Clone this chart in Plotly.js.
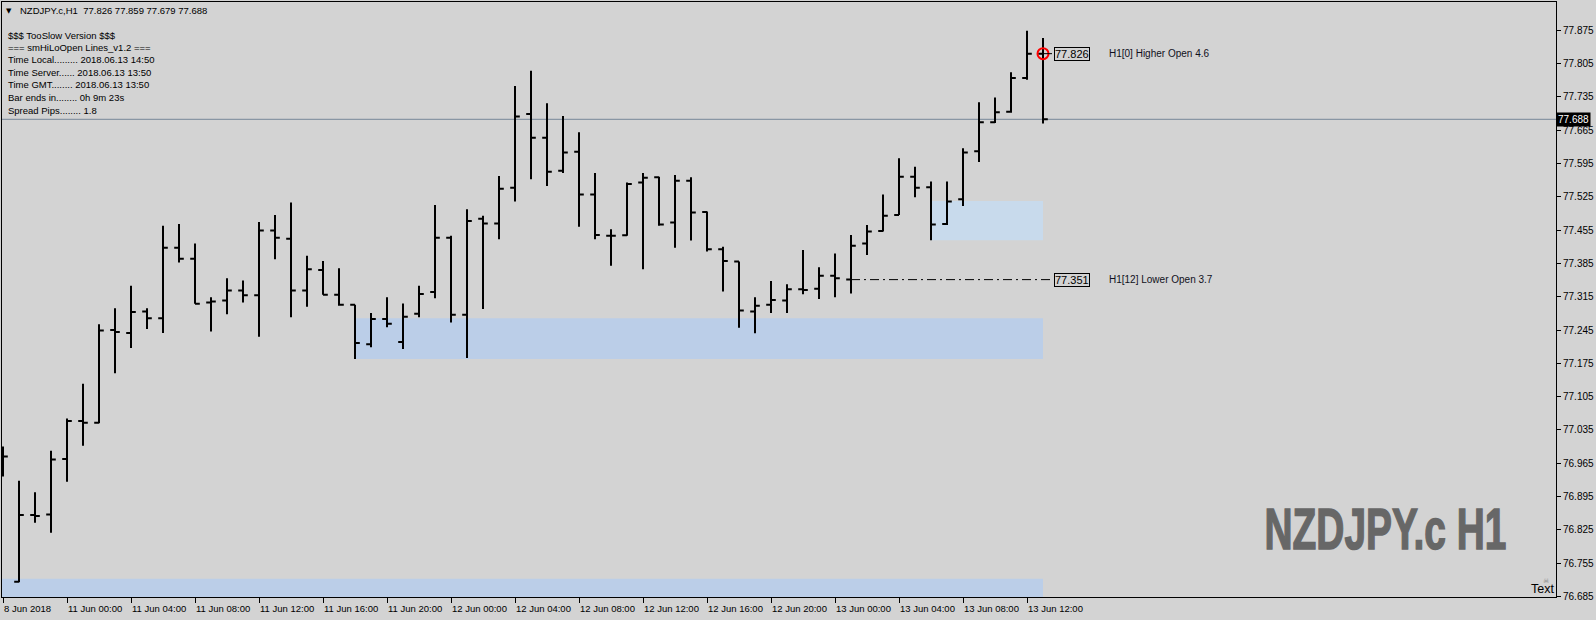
<!DOCTYPE html>
<html>
<head>
<meta charset="utf-8">
<script src="https://cdn.plot.ly/plotly-3.0.1.min.js"></script>
<style>
html,body{margin:0;padding:0;background:#D3D3D3;}
#chart{width:1596px;height:620px;}
</style>
</head>
<body>
<div id="chart"></div>
<script>
// ---------- DATA ----------
const symbol = "NZDJPY.c";
const timeframe = "H1";

const open = [76.985,76.716,76.856,76.857,76.974,77.054,77.050,77.245,77.239,77.284,
  77.270,77.418,77.395,77.303,77.307,77.328,77.318,77.454,77.437,77.328,
  77.371,77.319,77.298,77.215,77.268,77.220,77.279,77.325,77.439,77.277,
  77.479,77.469,77.544,77.699,77.649,77.580,77.620,77.530,77.443,77.444,
  77.555,77.566,77.471,77.559,77.493,77.415,77.389,77.284,77.298,77.307,
  77.331,77.332,77.359,77.351,77.427,77.453,77.487,77.567,77.545,77.468,
  77.520,77.621,77.682,77.704,77.775,77.826];
const high = [77.000,76.928,76.904,76.991,77.059,77.132,77.257,77.291,77.338,77.291,
  77.464,77.468,77.427,77.314,77.354,77.349,77.472,77.487,77.513,77.401,
  77.390,77.375,77.298,77.281,77.314,77.301,77.338,77.508,77.443,77.499,
  77.485,77.569,77.758,77.790,77.722,77.695,77.661,77.575,77.457,77.555,
  77.575,77.567,77.571,77.566,77.494,77.420,77.389,77.314,77.348,77.341,
  77.413,77.377,77.406,77.445,77.466,77.530,77.606,77.588,77.557,77.557,
  77.627,77.724,77.734,77.787,77.874,77.859];
const low = [76.937,76.715,76.840,76.819,76.926,77.002,77.049,77.154,77.207,77.247,
  77.239,77.387,77.300,77.242,77.278,77.303,77.231,77.394,77.272,77.294,
  77.319,77.296,77.184,77.209,77.251,77.205,77.272,77.312,77.261,77.186,
  77.289,77.436,77.515,77.562,77.548,77.575,77.462,77.436,77.380,77.443,
  77.373,77.464,77.418,77.433,77.410,77.326,77.250,77.238,77.281,77.281,
  77.320,77.310,77.314,77.322,77.403,77.452,77.487,77.524,77.434,77.466,
  77.506,77.598,77.680,77.702,77.771,77.679];
const close = [76.979,76.856,76.854,76.973,77.054,77.050,77.244,77.241,77.283,77.270,
  77.418,77.395,77.300,77.305,77.328,77.318,77.454,77.439,77.328,77.373,
  77.319,77.298,77.218,77.268,77.258,77.273,77.321,77.439,77.277,77.474,
  77.469,77.542,77.694,77.649,77.578,77.618,77.530,77.445,77.443,77.552,
  77.565,77.467,77.559,77.492,77.415,77.390,77.286,77.296,77.308,77.331,
  77.329,77.359,77.354,77.422,77.452,77.485,77.567,77.544,77.467,77.515,
  77.618,77.682,77.703,77.775,77.826,77.688];

// time-axis tick labels (bar index -> label)
const tickBars = [0,4,8,12,16,20,24,28,32,36,40,44,48,52,56,60,64];
const tickLabels = ["8 Jun 2018","11 Jun 00:00","11 Jun 04:00","11 Jun 08:00","11 Jun 12:00",
  "11 Jun 16:00","11 Jun 20:00","12 Jun 00:00","12 Jun 04:00","12 Jun 08:00","12 Jun 12:00",
  "12 Jun 16:00","12 Jun 20:00","13 Jun 00:00","13 Jun 04:00","13 Jun 08:00","13 Jun 12:00"];

// price-axis ticks
const priceTicks = [76.685,76.755,76.825,76.895,76.965,77.035,77.105,77.175,77.245,
  77.315,77.385,77.455,77.525,77.595,77.665,77.735,77.805,77.875];

// support / resistance zones
const zoneFromBar = [-1, 22, 58];
const zoneTop = [76.722, 77.270, 77.516];
const zoneBottom = [76.600, 77.184, 77.434];

// HiLo open levels
const levelBarsAgo = [0, 12];
const levelValue = [77.826, 77.351];
const levelText = ["H1[0] Higher Open 4.6", "H1[12] Lower Open 3.7"];

// info panel
const infoLines = ["$$$ TooSlow Version $$$",
  "=== smHiLoOpen Lines_v1.2 ===",
  "Time Local......... 2018.06.13 14:50",
  "Time Server...... 2018.06.13 13:50",
  "Time GMT........ 2018.06.13 13:50",
  "Bar ends in........ 0h 9m 23s",
  "Spread Pips........ 1.8"];

// ---------- LAYOUT / STYLE ----------
const W = 1596, H = 620;
const M = {l:2, r:40, t:2, b:23};
const plotW = W - M.l - M.r, plotH = H - M.t - M.b;
const pxPerBar = 16;
const pxPerPrice = 475.7;
const firstBarPx = 3;
const yMin = 76.6838;
const yMax = yMin + plotH / pxPerPrice;
const xMin = (M.l - firstBarPx) / pxPerBar;
const xMax = xMin + plotW / pxPerBar;
const px2x = px => (px - M.l) / plotW;
const py2y = py => (H - M.b - py) / plotH;

const uiFont = "Liberation Sans, Arial, sans-serif";
const last = open.length - 1;
const barIndex = open.map((_, i) => i);
const watermarkText = symbol + ' ' + timeframe;

const traces = [{
  type: 'ohlc',
  x: barIndex, open: open, high: high, low: low, close: close,
  increasing: {line: {color: '#000000', width: 2}},
  decreasing: {line: {color: '#000000', width: 2}},
  tickwidth: 0.3,
  hoverinfo: 'skip'
}, {
  type: 'scatter', mode: 'markers',
  x: [last - levelBarsAgo[0]], y: [levelValue[0]],
  marker: {symbol: 'circle-open', size: 11, color: '#FF0000', line: {width: 2, color: '#FF0000'}},
  hoverinfo: 'skip'
}];

const zoneColors = ['#BBCEE8', '#BBCEE8', '#C8DAEC'];
const shapes = [];
zoneFromBar.forEach((b, k) => {
  shapes.push({type: 'rect', xref: 'x', yref: 'y', layer: 'below',
    x0: b, x1: last, y0: zoneBottom[k], y1: zoneTop[k],
    fillcolor: zoneColors[k], line: {width: 0}});
});
// current price line
shapes.push({type: 'line', xref: 'paper', yref: 'y', x0: 0, x1: 1,
  y0: close[last], y1: close[last], line: {color: '#778899', width: 1}, layer: 'below'});

const boxOffset = 0.69, textOffset = 4.0;
levelValue.forEach((v, k) => {
  shapes.push({type: 'line', xref: 'x', yref: 'y', x0: last - levelBarsAgo[k], x1: last + boxOffset,
    y0: v, y1: v, line: {color: '#000000', width: 1, dash: '9px,4px,2px,4px'}});
});

const annotations = [];
levelValue.forEach((v, k) => {
  annotations.push({xref: 'x', yref: 'y', x: last + boxOffset, y: v, xanchor: 'left', yanchor: 'middle',
    text: v.toFixed(3), showarrow: false, bordercolor: '#000000', borderwidth: 1, borderpad: 0,
    font: {family: uiFont, size: 11, color: '#000000'}});
  annotations.push({xref: 'x', yref: 'y', x: last + textOffset, y: v, xanchor: 'left', yanchor: 'middle',
    text: levelText[k], showarrow: false,
    font: {family: uiFont, size: 10, color: '#101020'}});
});
// current price label on the axis
annotations.push({xref: 'paper', yref: 'y', x: 1, y: close[last], xanchor: 'left', yanchor: 'middle',
  text: close[last].toFixed(3), showarrow: false, bgcolor: '#000000', borderpad: 1,
  font: {family: uiFont, size: 10, color: '#FFFFFF'}});
// header line
annotations.push({xref: 'paper', yref: 'paper', x: px2x(4), y: py2y(11), xanchor: 'left', yanchor: 'middle',
  text: '\u25BC', showarrow: false, font: {family: 'DejaVu Sans', size: 7, color: '#000000'}});
annotations.push({xref: 'paper', yref: 'paper', x: px2x(18), y: py2y(11), xanchor: 'left', yanchor: 'middle',
  text: symbol + ',' + timeframe + '\u00A0 ' + [open[last], high[last], low[last], close[last]].map(v => v.toFixed(3)).join(' '),
  showarrow: false, font: {family: uiFont, size: 9.5, color: '#000000'}});
infoLines.forEach((t, i) => {
  annotations.push({xref: 'paper', yref: 'paper', x: px2x(6), y: py2y(35 + 12.5 * i), xanchor: 'left', yanchor: 'middle',
    text: t, showarrow: false, font: {family: uiFont, size: 9.5, color: '#000000'}});
});
// watermark (condensed afterwards to match the narrow bold face)
annotations.push({xref: 'paper', yref: 'paper', x: px2x(1385), y: py2y(528), xanchor: 'center', yanchor: 'middle',
  text: watermarkText, showarrow: false,
  font: {family: "'Liberation Sans', Arial, sans-serif", size: 58, weight: 700, color: '#676767'}});
// "Text" object label
annotations.push({xref: 'paper', yref: 'paper', x: 1, y: py2y(589), xanchor: 'right', yanchor: 'middle',
  text: 'Text', showarrow: false, font: {family: uiFont, size: 12.5, color: '#000000'}});
annotations.push({xref: 'paper', yref: 'paper', x: px2x(1546), y: py2y(581), xanchor: 'center', yanchor: 'middle',
  text: '\u2620', showarrow: false, font: {family: 'DejaVu Sans', size: 7, color: '#808080'}});

const layout = {
  width: W, height: H,
  paper_bgcolor: '#D3D3D3', plot_bgcolor: '#D3D3D3',
  margin: {l: M.l, r: M.r, t: M.t, b: M.b, pad: 0},
  showlegend: false,
  dragmode: false,
  xaxis: {
    type: 'linear', range: [xMin, xMax], autorange: false,
    tickmode: 'array', tickvals: tickBars, ticktext: tickLabels,
    ticks: 'outside', ticklen: 5, tickwidth: 1, tickcolor: '#000000',
    ticklabelposition: 'outside right', ticklabelstandoff: 3,
    tickfont: {family: uiFont, size: 9.5, color: '#000000'},
    showline: true, linecolor: '#000000', linewidth: 1, mirror: true,
    showgrid: false, zeroline: false, rangeslider: {visible: false}, fixedrange: true
  },
  yaxis: {
    side: 'right', range: [yMin, yMax], autorange: false,
    tickmode: 'array', tickvals: priceTicks, ticktext: priceTicks.map(v => v.toFixed(3)),
    ticks: 'outside', ticklen: 4, tickwidth: 1, tickcolor: '#000000',
    tickfont: {family: uiFont, size: 10, color: '#000000'},
    showline: true, linecolor: '#000000', linewidth: 1, mirror: true,
    showgrid: false, zeroline: false, fixedrange: true
  },
  shapes: shapes,
  annotations: annotations
};

Plotly.newPlot('chart', traces, layout, {displayModeBar: false, staticPlot: true}).then(function () {
  // squeeze the watermark horizontally to mimic the condensed heavy face of the original
  document.querySelectorAll('#chart .annotation-text').forEach(function (t) {
    if (t.textContent === watermarkText) {
      const bb = t.getBBox();
      const cx = bb.x + bb.width / 2;
      const sx = 242 / bb.width;
      t.setAttribute('transform', 'translate(' + cx + ',0) scale(' + sx + ',1) translate(' + (-cx) + ',0)');
      t.style.stroke = '#676767';
      t.style.strokeWidth = '1.5px';
    }
  });
});
</script>
</body>
</html>
